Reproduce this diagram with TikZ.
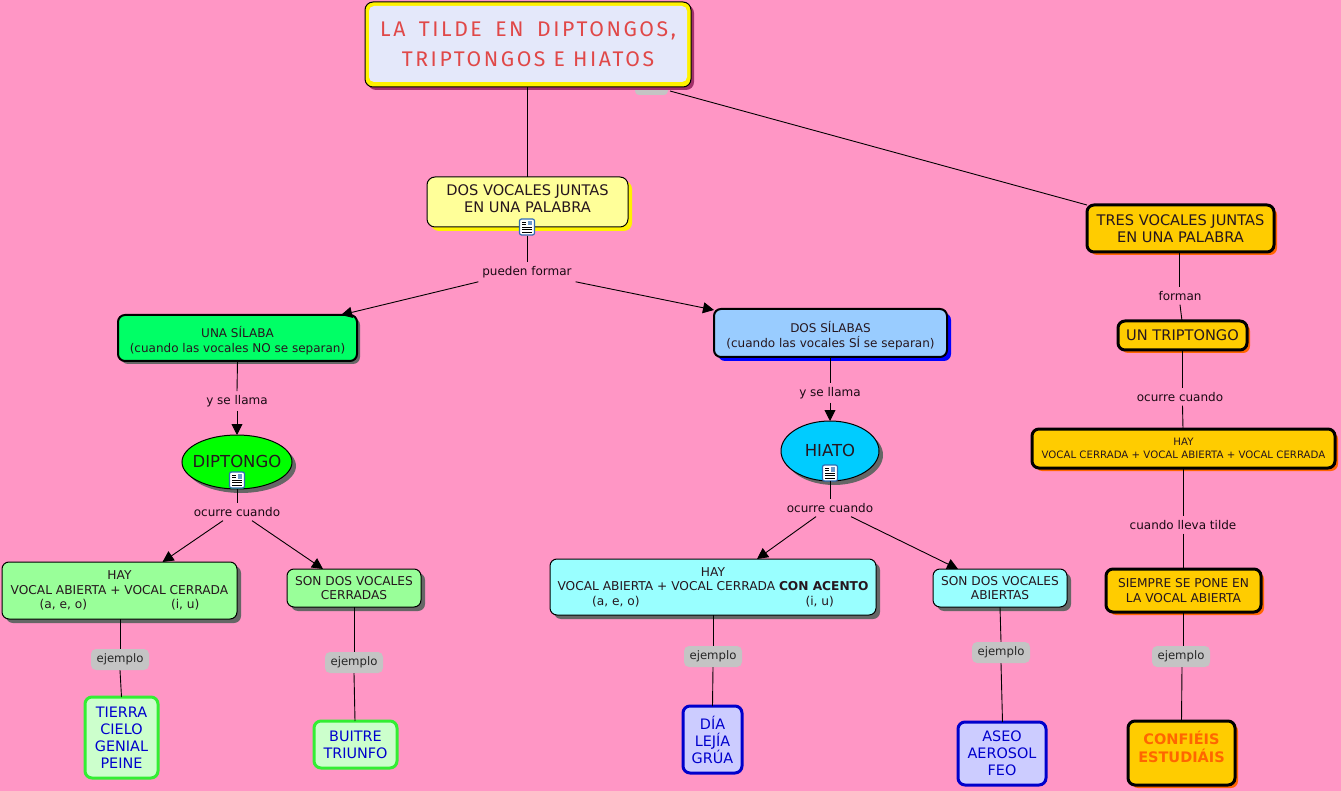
\documentclass[tikz,border=0pt]{standalone}
\usepackage{fontspec}
\setmainfont{DejaVu Sans}
\newfontfamily\titlefont[LetterSpace=12]{Fira Sans}
\usetikzlibrary{arrows.meta,shadows,shapes.geometric}
\definecolor{bgpink}{HTML}{FF96C5}
\definecolor{linkink}{HTML}{1A0A14}
\definecolor{grayshadow}{HTML}{666666}
\definecolor{orangeshadow}{HTML}{FF6600}
\definecolor{amber}{HTML}{FFCC00}
\definecolor{mintgreen}{HTML}{99FF99}
\definecolor{paleaqua}{HTML}{99FFFF}
\definecolor{exgreen}{HTML}{33EE33}
\definecolor{exgreenfill}{HTML}{CCFFCC}
\definecolor{exblue}{HTML}{0000CC}
\definecolor{exbluefill}{HTML}{CCCCFF}
\definecolor{lblgray}{HTML}{C4C4C4}
\definecolor{iconblue}{HTML}{2F6DB5}
\definecolor{maroonshadow}{HTML}{A0306A}
\definecolor{titlefill}{HTML}{E4E8FA}
\definecolor{titlered}{HTML}{E04848}
\definecolor{paleyellow}{HTML}{FFFF99}
\definecolor{vivgreen}{HTML}{00FF66}
\definecolor{skyb}{HTML}{99CCFF}
\definecolor{hiatoblue}{HTML}{00CCFF}
\tikzset{
  boxbase/.style={rectangle,rounded corners=#1,inner sep=0pt,outer sep=0pt,align=center,text=black!85!bgpink},
  boxbase/.default=7pt,
  shad/.style 2 args={copy shadow={shadow xshift=#1pt,shadow yshift=-#1pt,fill=#2,draw=none}},
  ftmid/.style={font=\fontsize{14.6}{17}\selectfont},
  ftsm/.style={font=\fontsize{12.2}{14.6}\selectfont},
  ftsil/.style={font=\fontsize{12}{14.6}\selectfont},
  fttiny/.style={font=\fontsize{10.2}{12.5}\selectfont},
  amberbox/.style={boxbase,draw=black,line width=3pt,fill=amber,shad={3}{orangeshadow}},
  greenbox/.style={boxbase,draw=black,line width=1pt,fill=mintgreen,shad={4}{grayshadow}},
  cyanbox/.style={boxbase,draw=black,line width=1pt,fill=paleaqua,shad={4}{grayshadow}},
  gexbox/.style={boxbase,draw=exgreen,line width=3pt,fill=exgreenfill,text=exblue,font=\fontsize{14.4}{17}\selectfont},
  bexbox/.style={boxbase,draw=exblue,line width=3pt,fill=exbluefill,text=exblue,font=\fontsize{14.4}{17}\selectfont},
  oval/.style={ellipse,draw=black,line width=1pt,inner sep=0pt,outer sep=0pt,text=black!85!bgpink,font=\fontsize{16.5}{18}\selectfont,shad={4}{grayshadow}},
  lbl/.style={inner sep=1pt,outer sep=3pt,yshift=-1pt,font=\fontsize{12}{14}\selectfont,text=linkink},
  exlbl/.style={rectangle,rounded corners=5pt,fill=lblgray,inner sep=0pt,minimum width=58pt,minimum height=21pt,yshift=-.5pt,font=\fontsize{11.7}{14}\selectfont,text=black!85},
  link/.style={draw=black,line width=.9pt},
  arrowlink/.style={link,-{Triangle[length=11pt,width=11pt]}},
  docicon/.style={rectangle,rounded corners=2pt,draw=iconblue,line width=1.2pt,fill=white,minimum width=15pt,minimum height=16pt,inner sep=0pt},
}
\newcommand{\bx}[7][]{%
  \pgfmathsetmacro{\bw}{#5-#3}\pgfmathsetmacro{\bh}{#6-#4}%
  \node[#1,minimum width=\bw pt,minimum height=\bh pt] (#2) at ({(#3+#5)/2},{(#4+#6)/2}) {#7};}
\newcommand{\iconat}[3]{%
  \node[docicon] (#1) at (#2,#3) {};
  \draw[black,line width=.7pt] (#2-5,#3-5) -- (#2-1,#3-5) (#2-5,#3-2.5) -- (#2-1,#3-2.5) (#2-5,#3) -- (#2+5,#3) (#2-5,#3+2.5) -- (#2+5,#3+2.5) (#2-5,#3+5) -- (#2+5,#3+5);
  \fill[iconblue!70] (#2+.5,#3-6) rectangle (#2+5,#3-1.5);}
\begin{document}
\begin{tikzpicture}[x=1pt,y=-1pt]
\useasboundingbox[fill=bgpink] (0,0) rectangle (1341,791);
% title
\fill[lblgray,rounded corners=4pt] (635,80) rectangle (668,95);
\bx[boxbase=8pt,draw=black,line width=1pt,fill=yellow,shad={3}{maroonshadow}]{titleframe}{365}{2}{691}{87}{}
\bx[boxbase=5pt,fill=titlefill,text=titlered,font=\titlefont\fontsize{21.2}{30}\selectfont]{title}{369}{6}{687}{82}{LA\hspace{13.5pt}TILDE\hspace{13.5pt}EN\hspace{13.5pt}DIPTONGOS,\\TRIPTONGOS E HIATOS}
% row 2
\bx[boxbase=8pt,draw=black,line width=1pt,fill=paleyellow,ftmid,shad={4}{yellow}]{dosvoc}{427}{177}{628}{227}{DOS VOCALES JUNTAS\\EN UNA PALABRA\\[-10pt]\mbox{}}
\bx[amberbox,ftmid]{tresvoc}{1087}{205}{1274}{252}{TRES VOCALES JUNTAS\\EN UNA PALABRA}
\iconat{docA}{527}{227}
% row 3
\bx[boxbase,draw=black,line width=2pt,fill=vivgreen,ftsil,shad={3}{grayshadow}]{unasil}{118}{315}{357}{361}{\rule{0pt}{16pt}UNA SÍLABA\\(cuando las vocales NO se separan)}
\bx[boxbase,draw=black,line width=2pt,fill=skyb,ftsil,shad={4}{blue}]{dossil}{714}{309}{947}{357}{\rule{0pt}{16pt}DOS SÍLABAS\\(cuando las vocales SÍ se separan)}
\bx[amberbox,ftmid]{untrip}{1118}{321}{1247}{350}{UN TRIPTONGO}
% ovals
\node[oval,fill=green,minimum width=110pt,minimum height=54pt] (dipt) at (237,462) {\raisebox{2pt}{\makebox[40pt]{DIPTONGO}}};
\iconat{docB}{237}{480}
\node[oval,fill=hiatoblue,minimum width=98pt,minimum height=60pt] (hiato) at (830,451) {\raisebox{2pt}{\makebox[40pt]{HIATO}}};
\iconat{docC}{830}{473}
% level 4
\bx[amberbox,fttiny]{hayT}{1032}{429}{1335}{468}{HAY\\VOCAL CERRADA + VOCAL ABIERTA + VOCAL CERRADA}
\bx[greenbox,ftsm]{hayD}{2}{562}{237}{619}{HAY\\VOCAL ABIERTA + VOCAL CERRADA\\(a, e, o)\hspace{84pt}(i, u)}
\bx[greenbox,ftsm]{sonC}{287}{569}{421}{607}{SON DOS VOCALES\\CERRADAS}
\bx[cyanbox,ftsm]{hayH}{550}{559}{876}{615}{HAY\\VOCAL ABIERTA + VOCAL CERRADA \textbf{CON ACENTO}\\(a, e, o)\hspace{166pt}(i, u)}
\bx[cyanbox,ftsm]{sonA}{933}{569}{1067}{607}{SON DOS VOCALES\\ABIERTAS}
\bx[amberbox,ftsm]{siempre}{1106}{569}{1261}{612}{SIEMPRE SE PONE EN\\LA VOCAL ABIERTA}
% examples
\bx[gexbox]{exA}{85}{697}{158}{778}{TIERRA\\CIELO\\GENIAL\\PEINE}
\bx[gexbox]{exB}{314}{721}{397}{768}{BUITRE\\TRIUNFO}
\bx[bexbox]{exC}{683}{706}{742}{773}{DÍA\\LEJÍA\\GRÚA}
\bx[bexbox]{exD}{958}{722}{1046}{785}{ASEO\\AEROSOL\\FEO}
\bx[amberbox,text=orangeshadow,font=\bfseries\fontsize{14.5}{18}\selectfont]{exE}{1128}{721}{1235}{785}{CONFIÉIS\\ESTUDIÁIS\\[-5pt]\mbox{}}
% labels
\node[lbl] (lpf) at (527,271) {pueden formar};
\node[lbl] (lyA) at (237,400) {y se llama};
\node[lbl] (lyB) at (830,392) {y se llama};
\node[lbl] (lfo) at (1180,295) {forman};
\node[lbl] (loT) at (1180,396) {ocurre cuando};
\node[lbl] (loD) at (237,511) {ocurre cuando};
\node[lbl] (loH) at (830,507) {ocurre cuando};
\node[lbl] (lcl) at (1183,524) {cuando lleva tilde};
\node[exlbl] (leA) at (120,659) {ejemplo};
\node[exlbl] (leB) at (354,662) {ejemplo};
\node[exlbl] (leC) at (713,656) {ejemplo};
\node[exlbl] (leD) at (1001,652) {ejemplo};
\node[exlbl] (leE) at (1181,656) {ejemplo};
% links
\draw[link] ([xshift=-1pt]titleframe.south) -- (docA.north |- dosvoc.north);
\coordinate (titleR) at (670,91);
\draw[link] (titleR) -- (tresvoc.north west);
\draw[link] (docA.south) -- (lpf.north);
\draw[arrowlink] (lpf.south west) -- ([xshift=223pt]unasil.north west);
\draw[arrowlink] (lpf.south east) -- ([yshift=-1pt]dossil.north west);
\draw[link] ([xshift=-1pt]tresvoc.south) -- ([xshift=-0.5pt]lfo.north);
\draw[link] (lfo.south) -- ([xshift=-.5pt]untrip.north);
\draw[link] (untrip.south) -- ([xshift=2.5pt]loT.north);
\draw[link] ([xshift=2.5pt]loT.south) -- ([xshift=-.5pt]hayT.north);
\draw[link] ([xshift=-.5pt]hayT.south) -- (lcl.north);
\draw[link] (lcl.south) -- ([xshift=-.5pt]siempre.north);
\draw[link] ([xshift=-.5pt]siempre.south) -- ([xshift=2pt]leE.north);
\draw[link] ([xshift=1pt]leE.south) -- ([xshift=0pt]exE.north);
\draw[link] (unasil.south) -- (lyA.north);
\draw[arrowlink] (lyA.south) -- (dipt.north);
\draw[link] (dossil.south) ++(-.5pt,0) -- (lyB.north);
\draw[arrowlink] (lyB.south) -- (hiato.north);
\draw[link] (docB.south) -- (loD.north);
\draw[arrowlink] ([xshift=-14pt]loD.south) -- ([xshift=43pt]hayD.north);
\draw[arrowlink] ([xshift=15pt]loD.south) -- ([xshift=-31pt]sonC.north);
\draw[link] (hiato.south) -- (loH.north);
\draw[arrowlink] ([xshift=-14pt]loH.south) -- ([xshift=44pt]hayH.north);
\draw[arrowlink] ([xshift=21pt]loH.south) -- ([xshift=-42pt]sonA.north);
\draw[link] ([xshift=.5pt]hayD.south) -- (leA.north);
\draw[link] (leA.south) -- (exA.north);
\draw[link] (sonC.south) -- (leB.north);
\draw[link] (leB.south) -- ([xshift=-.5pt]exB.north);
\draw[link] (hayH.south) -- (leC.north);
\draw[link] (leC.south) -- (exC.north);
\draw[link] (sonA.south) -- (leD.north);
\draw[link] (leD.south) -- ([xshift=.5pt]exD.north);
\end{tikzpicture}
\end{document}
